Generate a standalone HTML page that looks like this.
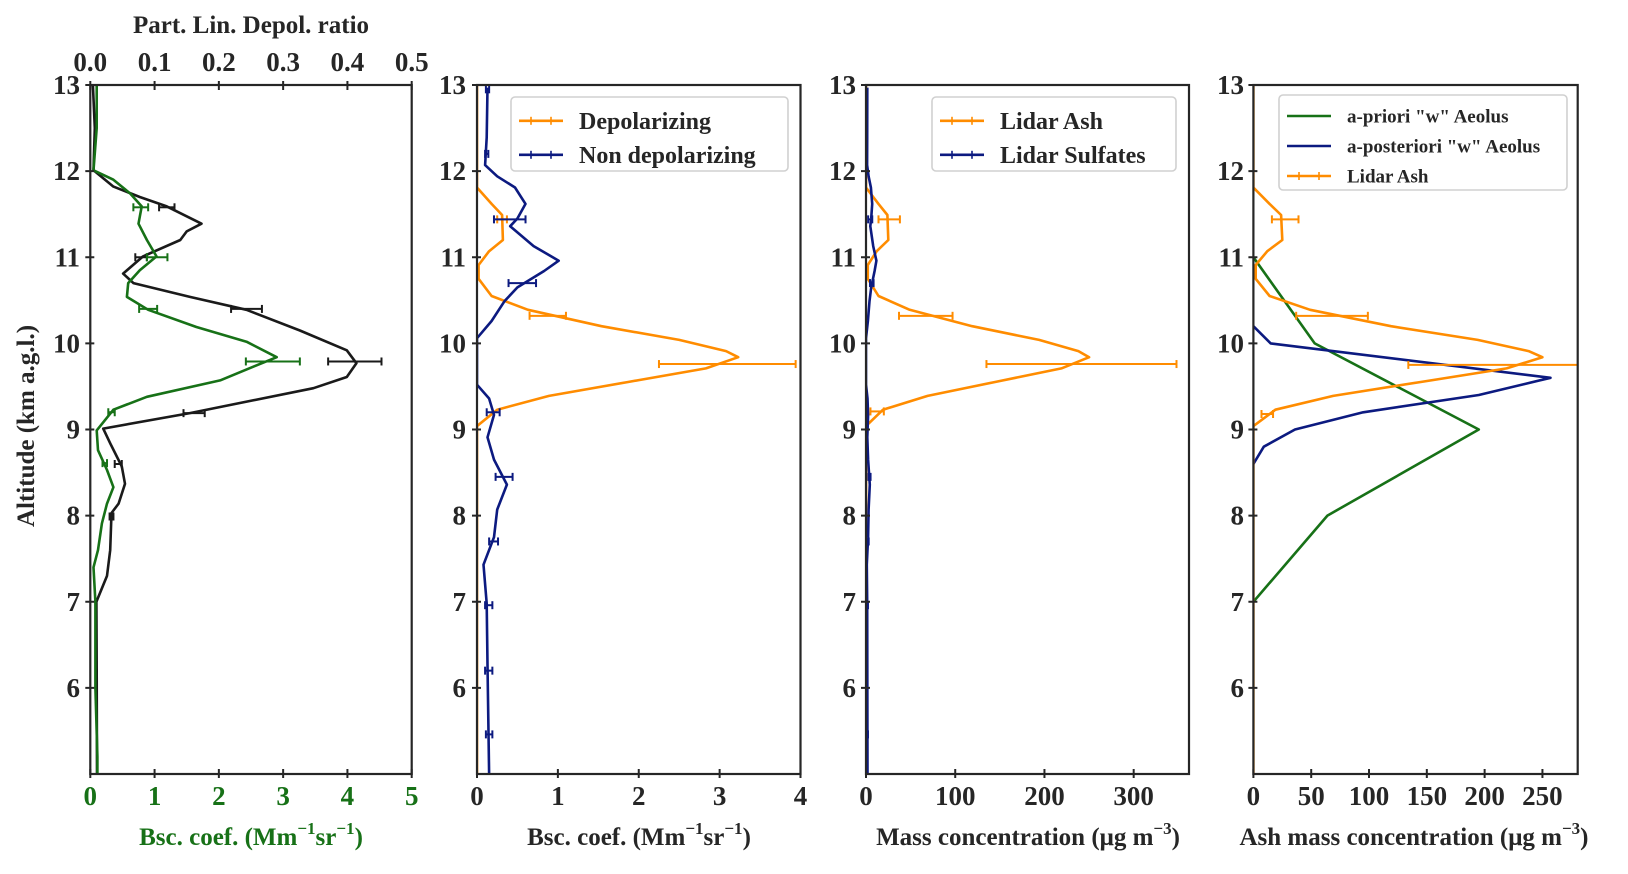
<!DOCTYPE html>
<html><head><meta charset="utf-8"><style>
html,body{margin:0;padding:0;background:#fff;}
svg text{font-family:"Liberation Serif",serif;font-weight:bold;}
</style></head><body>
<svg id="chart" width="1628" height="869" viewBox="0 0 1628 869" xmlns="http://www.w3.org/2000/svg"></svg>
<script>
// ---- data (altitude km, values) ----
const p1BlackAlt=[13,12.5,12.01,11.82,11.70,11.59,11.39,11.30,11.20,11.01,10.81,10.70,10.54,10.39,10.15,9.92,9.77,9.61,9.48,9.19,9.01,8.84,8.57,8.37,8.14,8.03,7.60,7.3,7.0,6.2,5.0];
const p1BlackVal=[0.004,0.007,0.005,0.036,0.077,0.119,0.173,0.150,0.140,0.082,0.051,0.067,0.155,0.243,0.326,0.399,0.414,0.399,0.347,0.155,0.020,0.031,0.049,0.054,0.044,0.033,0.031,0.026,0.0095,0.010,0.0105];
const p1GreenAlt=[13,12.5,12.01,11.90,11.74,11.59,11.39,11.20,11.01,10.85,10.70,10.54,10.39,10.19,10.02,9.84,9.73,9.57,9.38,9.23,8.99,8.76,8.53,8.33,8.14,7.91,7.60,7.4,7.0,6.0,5.2,5.0];
const p1GreenVal=[0.10,0.10,0.05,0.36,0.62,0.80,0.75,0.88,1.03,0.77,0.59,0.57,0.90,1.65,2.43,2.90,2.54,2.02,0.88,0.36,0.10,0.12,0.26,0.36,0.26,0.18,0.12,0.05,0.08,0.08,0.11,0.11];
const p1GreenErrAlt=[11.58,11.0,10.4,9.79,9.2,8.61];
const p1GreenErrLo=[0.67,0.88,0.76,2.42,0.28,0.19];
const p1GreenErrHi=[0.90,1.20,1.04,3.26,0.38,0.26];
const p1BlackErrAlt=[11.58,11.0,10.4,9.79,9.19,8.6,7.99];
const p1BlackErrLo=[0.107,0.070,0.219,0.370,0.145,0.038,0.030];
const p1BlackErrHi=[0.131,0.088,0.267,0.453,0.178,0.049,0.036];

const p2OrangeAlt=[13,11.81,11.62,11.49,11.20,11.07,10.91,10.75,10.55,10.39,10.20,10.04,9.91,9.84,9.71,9.55,9.39,9.23,9.04,5];
const p2OrangeVal=[0,0,0.18,0.31,0.32,0.15,0.02,0.02,0.18,0.63,1.54,2.50,3.08,3.23,2.83,1.86,0.89,0.25,0,0];
const p2OrangeErrAlt=[11.44,10.32,9.76];
const p2OrangeErrLo=[0.25,0.65,2.25];
const p2OrangeErrHi=[0.37,1.10,3.94];
const p2BlueAlt=[12.97,12.39,12.07,11.94,11.81,11.62,11.45,11.36,11.13,10.96,10.84,10.65,10.49,10.26,10.06,9.52,9.36,9.17,8.91,8.65,8.36,8.07,7.75,7.43,6.98,6.27,5.01];
const p2BlueVal=[0.13,0.12,0.10,0.25,0.47,0.60,0.50,0.41,0.70,1.01,0.83,0.50,0.34,0.18,0,0,0.15,0.21,0.13,0.21,0.37,0.25,0.21,0.08,0.12,0.13,0.15];
const p2BlueErrAlt=[12.95,12.2,11.44,10.70,9.2,8.45,7.7,6.96,6.2,5.46];
const p2BlueErrLo=[0.11,0.10,0.21,0.39,0.12,0.23,0.15,0.10,0.10,0.11];
const p2BlueErrHi=[0.15,0.14,0.60,0.73,0.28,0.44,0.26,0.19,0.19,0.19];

const p3AshAlt=[13,11.81,11.62,11.49,11.20,11.07,10.91,10.75,10.55,10.39,10.20,10.04,9.91,9.84,9.71,9.55,9.39,9.23,9.04,5];
const p3AshVal=[0,0,14,24,25,12,2,2,14,49,119,194,238,250,219,144,69,19,0,0];
const p3AshErrAlt=[11.44,10.32,9.76,9.21];
const p3AshErrLo=[14,37,135,5];
const p3AshErrHi=[38,97,348,20];
const p3SulfAlt=[12.97,12.39,12.07,11.94,11.81,11.62,11.45,11.36,11.13,10.96,10.84,10.65,10.49,10.26,10.06,9.52,9.36,9.17,8.91,8.65,8.36,8.07,7.75,7.43,6.98,6.27,5.01];
const p3SulfVal=[1.5,1.4,1.2,2.9,5.5,7.0,5.8,4.8,8.1,11.7,9.6,5.8,3.9,2.1,0,0,1.7,2.4,1.5,2.4,4.3,2.9,2.4,0.9,1.4,1.5,1.7];
const p3SulfErrAlt=[11.44,10.70,8.45,7.7,6.96,5.46];
const p3SulfErrLo=[2.4,4.5,2.7,1.7,1.2,1.3];
const p3SulfErrHi=[7.0,8.5,5.1,3.0,2.2,2.2];

const p4PrioriAlt=[11,10,9,8,7];
const p4PrioriVal=[0,53,195,64,0];
const p4PostAlt=[10.2,10.0,9.6,9.4,9.2,9.0,8.8,8.6];
const p4PostVal=[0,15,257,195,95,36,9,0];
const p4AshAlt=[13,11.81,11.62,11.49,11.20,11.07,10.91,10.75,10.55,10.39,10.20,10.04,9.91,9.84,9.71,9.55,9.39,9.23,9.04,5];
const p4AshVal=[0,0,14,24,25,12,2,2,14,49,119,194,238,250,219,144,69,19,0,0];
const p4AshErrAlt=[11.44,10.32,9.75,9.18];
const p4AshErrLo=[16,37,134,7];
const p4AshErrHi=[39,99,350,17];

const yTicks=[6,7,8,9,10,11,12,13];
const p1BottomTicks=[0,1,2,3,4,5];
const p1TopTicks=[0,0.1,0.2,0.3,0.4,0.5];
const p1TopLabels=["0.0","0.1","0.2","0.3","0.4","0.5"];
const p2Ticks=[0,1,2,3,4];
const p3Ticks=[0,100,200,300];
const p4Ticks=[0,50,100,150,200,250];

// ---- drawing ----
const NS="http://www.w3.org/2000/svg";
const svg=document.getElementById('chart');
const GREEN="#177117",BLACK="#1a1a1a",ORANGE="#ff8c00",NAVY="#0c1a80",AX="#262626";
function mk(tag,attrs,parent){const e=document.createElementNS(NS,tag);for(const k in attrs)e.setAttribute(k,attrs[k]);(parent||svg).appendChild(e);return e;}
const Y0=85,Y1=774,AMIN=5,AMAX=13;
function yS(a){return Y1-(a-AMIN)/(AMAX-AMIN)*(Y1-Y0);}
function xScale(x0,x1,vmin,vmax){return v=>x0+(v-vmin)/(vmax-vmin)*(x1-x0);}

function panel(name,x0,x1){
  const g=mk('g',{});
  
  
  const cp=mk('clipPath',{id:'clip-'+name},g);
  mk('rect',{x:x0,y:Y0,width:x1-x0,height:Y1-Y0},cp);
  const plot=mk('g',{'clip-path':'url(#clip-'+name+')'},g);
  
  
  return {g,plot,x0,x1};
}
function line(parent,xs,alts,vals,color,name){
  const pts=alts.map((a,i)=>xs(vals[i]).toFixed(1)+','+yS(a).toFixed(1)).join(' ');
  const e=mk('polyline',{points:pts,fill:'none',stroke:color,'stroke-width':2.6,'stroke-linejoin':'round'},parent);
  
  
}
function errs(parent,xs,alts,lo,hi,color,name){
  alts.forEach((a,i)=>{
    const y=yS(a),xa=xs(lo[i]),xb=xs(hi[i]);
    const g=mk('g',{stroke:color,'stroke-width':2},parent);
    
    
    mk('line',{x1:xa,x2:xb,y1:y,y2:y},g);
    mk('line',{x1:xa,x2:xa,y1:y-4,y2:y+4},g);
    mk('line',{x1:xb,x2:xb,y1:y-4,y2:y+4},g);
  });
}
function frame(p,xs,ticks,labels,color,ylabelX){
  const r=mk('rect',{x:p.x0,y:Y0,width:p.x1-p.x0,height:Y1-Y0,fill:'none',stroke:AX,'stroke-width':2.2},p.g);
  
  
  ticks.forEach((t,i)=>{
    const x=xs(t);
    mk('line',{x1:x,x2:x,y1:Y1-5,y2:Y1+4,stroke:AX,'stroke-width':2},p.g);
    const tx=mk('text',{x:x,y:Y1+31,'font-size':27,'text-anchor':'middle',fill:color||AX},p.g);
    tx.textContent=labels?labels[i]:String(t);
    
    
  });
  yTicks.forEach(t=>{
    const y=yS(t);
    mk('line',{x1:p.x0-5,x2:p.x0+4,y1:y,y2:y,stroke:AX,'stroke-width':2},p.g);
    const tx=mk('text',{x:ylabelX,y:y+9,'font-size':27,'text-anchor':'end',fill:AX},p.g);
    tx.textContent=String(t);
    
    
  });
}
function label(x,y,html,size,color,name,rot){
  const t=mk('text',{x:x,y:y,'font-size':size,'text-anchor':'middle',fill:color||AX});
  if(rot)t.setAttribute('transform','rotate(-90 '+x+' '+y+')');
  t.innerHTML=html;
  
  
}
function legend(x,y,w,h,entries,size,rowH,name){
  const g=mk('g',{});
  
  
  mk('rect',{x:x,y:y,width:w,height:h,rx:4,fill:'#fff',stroke:'#d0d0d0','stroke-width':1.6},g);
  entries.forEach((en,i)=>{
    const cy=y+rowH*0.7+i*rowH;
    const eg=mk('g',{},g);
    
    
    mk('line',{x1:x+8,x2:x+52,y1:cy,y2:cy,stroke:en.c,'stroke-width':2.6},eg);
    if(en.err){[x+20,x+40].forEach(xx=>mk('line',{x1:xx,x2:xx,y1:cy-4,y2:cy+4,stroke:en.c,'stroke-width':1.6},eg));}
    const t=mk('text',{x:x+68,y:cy+size*0.35,'font-size':size,fill:AX},eg);
    t.textContent=en.t;
  });
}

// Panel 1
const p1=panel('panel-backscatter-depol',90.3,411.7);
const x1b=xScale(90.3,411.7,0,5), x1t=xScale(90.3,411.7,0,0.5);
line(p1.plot,x1t,p1BlackAlt,p1BlackVal,BLACK,'depol-ratio-line');
line(p1.plot,x1b,p1GreenAlt,p1GreenVal,GREEN,'backscatter-line');
errs(p1.plot,x1t,p1BlackErrAlt,p1BlackErrLo,p1BlackErrHi,BLACK,'depol-error-bar');
errs(p1.plot,x1b,p1GreenErrAlt,p1GreenErrLo,p1GreenErrHi,GREEN,'backscatter-error-bar');
frame(p1,x1b,p1BottomTicks,null,GREEN,80);
p1TopTicks.forEach((t,i)=>{
  const x=x1t(t);
  mk('line',{x1:x,x2:x,y1:Y0-4,y2:Y0+5,stroke:AX,'stroke-width':2},p1.g);
  const tx=mk('text',{x:x,y:Y0-14,'font-size':27,'text-anchor':'middle',fill:AX},p1.g);
  tx.textContent=p1TopLabels[i];
  
  
});
label(251,33,'Part. Lin. Depol. ratio',25,AX,'top-axis-title');
label(251,845,'Bsc. coef. (Mm<tspan dy="-11" font-size="17">−1</tspan><tspan dy="11">sr</tspan><tspan dy="-11" font-size="17">−1</tspan><tspan dy="11">)</tspan>',25,GREEN,'x-axis-title-1');
label(34,426,'Altitude (km a.g.l.)',25,AX,'y-axis-title',true);

// Panel 2
const p2=panel('panel-depol-split',477,800.5);
const x2=xScale(477,800.5,0,4);
line(p2.plot,x2,p2OrangeAlt,p2OrangeVal,ORANGE,'depolarizing-line');
line(p2.plot,x2,p2BlueAlt,p2BlueVal,NAVY,'non-depolarizing-line');
errs(p2.plot,x2,p2OrangeErrAlt,p2OrangeErrLo,p2OrangeErrHi,ORANGE,'depolarizing-error-bar');
errs(p2.plot,x2,p2BlueErrAlt,p2BlueErrLo,p2BlueErrHi,NAVY,'non-depolarizing-error-bar');
frame(p2,x2,p2Ticks,null,AX,466);
legend(511,97,277,74,[{t:'Depolarizing',c:ORANGE,err:true},{t:'Non depolarizing',c:NAVY,err:true}],24,34,'legend-panel-2');
label(639,845,'Bsc. coef. (Mm<tspan dy="-11" font-size="17">−1</tspan><tspan dy="11">sr</tspan><tspan dy="-11" font-size="17">−1</tspan><tspan dy="11">)</tspan>',25,AX,'x-axis-title-2');

// Panel 3
const p3=panel('panel-mass',866,1189);
const x3=xScale(866,1189,0,362);
line(p3.plot,x3,p3AshAlt,p3AshVal,ORANGE,'lidar-ash-line');
line(p3.plot,x3,p3SulfAlt,p3SulfVal,NAVY,'lidar-sulfates-line');
errs(p3.plot,x3,p3AshErrAlt,p3AshErrLo,p3AshErrHi,ORANGE,'lidar-ash-error-bar');
errs(p3.plot,x3,p3SulfErrAlt,p3SulfErrLo,p3SulfErrHi,NAVY,'lidar-sulfates-error-bar');
frame(p3,x3,p3Ticks,null,AX,856);
legend(932,97,244,74,[{t:'Lidar Ash',c:ORANGE,err:true},{t:'Lidar Sulfates',c:NAVY,err:true}],24,34,'legend-panel-3');
label(1028,845,'Mass concentration (μg m<tspan dy="-11" font-size="17">−3</tspan><tspan dy="11">)</tspan>',25,AX,'x-axis-title-3');

// Panel 4
const p4=panel('panel-aeolus',1253.4,1577.7);
const x4=xScale(1253.4,1577.7,0,280.5);
line(p4.plot,x4,p4PrioriAlt,p4PrioriVal,GREEN,'a-priori-line');
line(p4.plot,x4,p4PostAlt,p4PostVal,NAVY,'a-posteriori-line');
line(p4.plot,x4,p4AshAlt,p4AshVal,ORANGE,'lidar-ash-line-4');
errs(p4.plot,x4,p4AshErrAlt,p4AshErrLo,p4AshErrHi,ORANGE,'lidar-ash-error-bar-4');
frame(p4,x4,p4Ticks,null,AX,1244);
legend(1279,95,288,95,[{t:'a-priori "w" Aeolus',c:GREEN},{t:'a-posteriori "w" Aeolus',c:NAVY},{t:'Lidar Ash',c:ORANGE,err:true}],19,30,'legend-panel-4');
label(1414,845,'Ash mass concentration (μg m<tspan dy="-11" font-size="17">−3</tspan><tspan dy="11">)</tspan>',25,AX,'x-axis-title-4');
</script>
</body></html>
